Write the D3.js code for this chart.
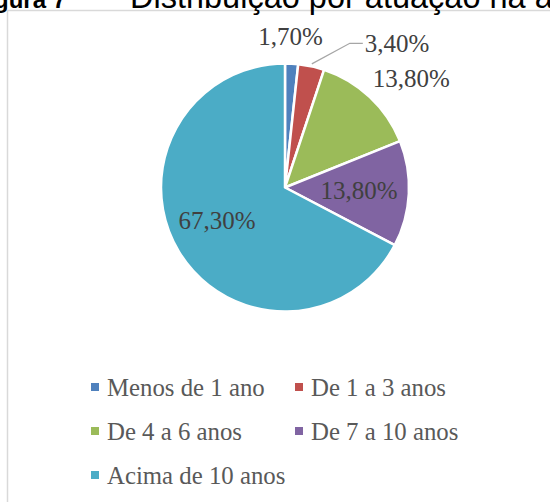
<!DOCTYPE html>
<html>
<head>
<meta charset="utf-8">
<script src="https://cdn.jsdelivr.net/npm/d3@7"></script>
<style>
  html, body { margin: 0; padding: 0; background: #ffffff; }
  svg { display: block; }
</style>
</head>
<body>
<svg id="chart" width="550" height="502"></svg>
<script>
// ---- data ----
const categories = ["Menos de 1 ano", "De 1 a 3 anos", "De 4 a 6 anos", "De 7 a 10 anos", "Acima de 10 anos"];
const values = [1.7, 3.4, 13.8, 13.8, 67.3];
const valueLabels = ["1,70%", "3,40%", "13,80%", "13,80%", "67,30%"];
const colors = ["#4F81BD", "#C0504D", "#9BBB59", "#8064A2", "#4BACC6"];
const titleBold = "Figura 7";
const titleText = "Distribuição por atuação na área";

// ---- layout ----
const svg = d3.select("#chart");
const cx = 285, cy = 187.5, R = 124;
const serif = "'Liberation Serif', 'Times New Roman', serif";

// chart frame (extends beyond the crop)
svg.append("rect")
  .attr("x", 7.5).attr("y", 10.5)
  .attr("width", 700).attr("height", 700)
  .attr("fill", "none").attr("stroke", "#d9d9d9").attr("stroke-width", 1.5);

// title (cropped at top)
svg.append("text")
  .attr("x", 66).attr("y", 8)
  .attr("text-anchor", "end")
  .attr("font-family", "'Liberation Sans', Arial, sans-serif")
  .attr("font-weight", "bold").attr("font-size", 24)
  .attr("fill", "#000")
  .text(titleBold);
svg.append("text")
  .attr("x", 130).attr("y", 8)
  .attr("font-family", "'Liberation Sans', Arial, sans-serif")
  .attr("font-size", 32.5)
  .attr("fill", "#000")
  .text(titleText);

// pie
const pie = d3.pie().sort(null).value(d => d)
  .startAngle(0).endAngle(2 * Math.PI);
const arcs = pie(values);
const arc = d3.arc().innerRadius(0).outerRadius(R);

const g = svg.append("g").attr("transform", `translate(${cx},${cy})`);
g.selectAll("path.slice")
  .data(arcs)
  .join("path")
  .attr("class", "slice")
  .attr("d", arc)
  .attr("fill", (d, i) => colors[i])
  .attr("stroke", "#ffffff")
  .attr("stroke-width", 2.5)
  .attr("stroke-linejoin", "round");

// label placement: angle shift (deg) and radius factor per slice
const labelPlace = [
  { dA: -1.0, k: 1.222 },
  null,
  { dA: 5.9, k: 1.347 },
  { dA: -0.2, k: 0.597 },
  { dA: 5.0, k: 0.61 }
];
function polar(angle, r) {
  return [r * Math.sin(angle), -r * Math.cos(angle)];
}
arcs.forEach((d, i) => {
  const mid = (d.startAngle + d.endAngle) / 2;
  if (labelPlace[i]) {
    const p = polar(mid + labelPlace[i].dA * Math.PI / 180, R * labelPlace[i].k);
    g.append("text")
      .attr("x", p[0]).attr("y", p[1])
      .attr("dy", "0.34em")
      .attr("text-anchor", "middle")
      .attr("font-family", serif)
      .attr("font-size", 25)
      .attr("fill", "#404040")
      .text(valueLabels[i]);
  } else {
    // leader line label
    const p0 = polar(mid, R * 1.02);
    const elbow = [p0[0] + 38, -144.2];
    const p2 = [elbow[0] + 13, elbow[1]];
    g.append("polyline")
      .attr("points", [p0, elbow, p2].map(p => p.join(",")).join(" "))
      .attr("fill", "none").attr("stroke", "#a6a6a6").attr("stroke-width", 1.2);
    g.append("text")
      .attr("x", p2[0] + 2).attr("y", elbow[1])
      .attr("dy", "0.34em")
      .attr("text-anchor", "start")
      .attr("font-family", serif)
      .attr("font-size", 25)
      .attr("fill", "#404040")
      .text(valueLabels[i]);
  }
});

// legend
const legX = [91, 295], legY0 = 383, legDy = 44;
const leg = svg.append("g");
categories.forEach((c, i) => {
  const col = i % 2, row = Math.floor(i / 2);
  const x = legX[col], y = legY0 + row * legDy;
  leg.append("rect")
    .attr("x", x).attr("y", y).attr("width", 8).attr("height", 8)
    .attr("fill", colors[i]);
  leg.append("text")
    .attr("x", x + 16).attr("y", y + 13)
    .attr("font-family", serif)
    .attr("font-size", 24.8)
    .attr("fill", "#595959")
    .text(c);
});
</script>
</body>
</html>
